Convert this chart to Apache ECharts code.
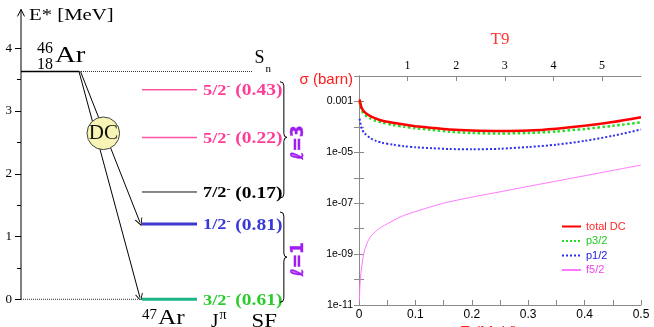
<!DOCTYPE html>
<html><head><meta charset="utf-8">
<script src="https://cdn.jsdelivr.net/npm/echarts@6/dist/echarts.min.js"></script>
<style>html,body{margin:0;padding:0;background:#fff}#c{width:654px;height:327px}</style>
</head><body><div id="c"></div>
<script>
// ---------------- data ----------------
// level scheme of 47Ar
const levelJpi = ['5/2', '5/2', '7/2', '1/2', '3/2'];
const levelParity = ['-', '-', '-', '-', '-'];
const levelSF = ['0.43', '0.22', '0.17', '0.81', '0.61'];
const levelEnergy = [3.34, 2.58, 1.71, 1.20, 0.00];   // MeV
const separationEnergy = 3.63;                         // Sn (MeV)
const dcTargetEnergy = [1.20, 0.00];                   // DC arrows end here
const ellLabels = ['ℓ=3', 'ℓ=1'];
const energyTicks = [0, 1, 2, 3, 4];

// cross sections (barn) vs E (MeV)
const energyE = [0.001, 0.005, 0.01, 0.02, 0.03, 0.04, 0.06, 0.08, 0.1, 0.13, 0.16, 0.2, 0.25, 0.3, 0.35, 0.4, 0.45, 0.5];
const sigmaTotal = [1.20e-3, 5.37e-4, 3.80e-4, 2.63e-4, 2.14e-4, 1.78e-4, 1.45e-4, 1.23e-4, 1.07e-4, 9.1e-5, 7.9e-5, 7.2e-5, 6.9e-5, 7.2e-5, 8.5e-5, 1.10e-4, 1.55e-4, 2.40e-4];
const sigmaP32   = [1.00e-3, 4.37e-4, 3.02e-4, 2.14e-4, 1.74e-4, 1.51e-4, 1.20e-4, 1.02e-4, 8.9e-5, 7.6e-5, 6.5e-5, 5.75e-5, 5.5e-5, 5.75e-5, 6.6e-5, 8.3e-5, 1.10e-4, 1.51e-4];
const sigmaP12   = [2.09e-4, 8.3e-5, 5.6e-5, 3.63e-5, 2.82e-5, 2.40e-5, 2.0e-5, 1.74e-5, 1.58e-5, 1.45e-5, 1.35e-5, 1.32e-5, 1.38e-5, 1.62e-5, 2.0e-5, 2.82e-5, 4.47e-5, 7.9e-5];
const energyF = [0.0005, 0.001, 0.002, 0.004, 0.007, 0.01, 0.015, 0.02, 0.03, 0.04, 0.05, 0.075, 0.1, 0.15, 0.2, 0.25, 0.3, 0.35, 0.4, 0.45, 0.5];
const sigmaF52 = [1.26e-11, 2.5e-11, 7.9e-11, 2.34e-10, 6.8e-10, 1.45e-9, 2.95e-9, 4.7e-9, 7.9e-9, 1.15e-8, 1.55e-8, 3.0e-8, 4.7e-8, 1.0e-7, 1.74e-7, 2.8e-7, 4.6e-7, 7.4e-7, 1.2e-6, 1.95e-6, 3.16e-6];
const seriesNames = ['total DC', 'p3/2', 'p1/2', 'f5/2'];
const kT_MeV_per_T9 = 0.08617;
const T9Ticks = [1, 2, 3, 4, 5];

// ---------------- styles / layout ----------------
const F_SERIF = "'Liberation Serif','DejaVu Serif',serif";
const F_SANS = "'Liberation Sans','DejaVu Sans',sans-serif";
const levelLineColor = ['#ff55a8', '#ff55a8', '#111111', '#3a3ad0', '#1db488'];
const levelTextColor = ['#ff3d99', '#ff3d99', '#000000', '#3838d8', '#2ccc2c'];
const levelLineWidth = [1.5, 1.5, 1, 3, 3];
const seriesColor = ['#ff0000', '#22dd22', '#3030ee', '#ff77ff'];
const legendTextColor = ['#ff2a2a', '#22cc22', '#2020dd', '#ee44ee'];
const LX0 = 121, LX1 = 176, AR_END = 58, SN_END = 232, LABEL_X = 182;

const chart = echarts.init(document.getElementById('c'), null, {renderer: 'canvas'});

const levelSeries = levelEnergy.map((E, i) => ({
  type: 'line', xAxisIndex: 0, yAxisIndex: 0, silent: true, clip: false, animation: false,
  symbol: 'none', data: [[LX0, E], [LX1, E]],
  lineStyle: {color: levelLineColor[i], width: levelLineWidth[i]}
}));
const chevron = 'path://M0,10 L5,0 L10,10 L8.8,10 L5,2.4 L1.2,10 Z';

const sigmaSeries = [sigmaTotal, sigmaP32, sigmaP12, sigmaF52].map((arr, i) => {
  const xs = i === 3 ? energyF : energyE;
  const ls = [
    {width: 2.5, type: 'solid'},
    {width: 2.5, type: 'dotted'},
    {width: 2, type: 'dotted'},
    {width: 1, type: 'solid'}
  ][i];
  return {
    name: seriesNames[i], type: 'line', xAxisIndex: 1, yAxisIndex: 1,
    data: xs.map((e, k) => [e, arr[k]]), symbol: 'none', showSymbol: false, smooth: 0.25,
    animation: false, z: [6, 5, 4, 3][i],
    lineStyle: Object.assign({color: seriesColor[i]}, ls),
    itemStyle: {color: seriesColor[i]}
  };
});

function logLabel(v) {
  const ex = Math.round(Math.log10(v));
  if (ex === -2 || ((-ex) % 2) !== 1) return '';
  if (ex >= -4) return String(Math.pow(10, ex).toFixed(-ex));
  return '1e-' + String(-ex).padStart(2, '0');
}

const option = {
  backgroundColor: '#fff',
  animation: false,
  grid: [
    {left: 21, right: 324, top: 48.3, bottom: 27.7, containLabel: false, outerBoundsMode: 'none'},
    {left: 359, right: 13, top: 76, bottom: 22, containLabel: false, outerBoundsMode: 'none'}
  ],
  xAxis: [
    {gridIndex: 0, type: 'value', min: 0, max: 309, show: false},
    {gridIndex: 1, type: 'value', min: 0, max: 0.5, interval: 0.05, position: 'bottom',
     axisLine: {show: true, lineStyle: {color: '#8a8a8a'}},
     axisTick: {show: true, inside: true, length: 5, lineStyle: {color: '#8a8a8a'}},
     splitLine: {show: false},
     axisLabel: {show: true, margin: 4, color: '#000', fontFamily: F_SANS, fontSize: 12,
       showMinLabel: true, showMaxLabel: true, hideOverlap: false,
       formatter: v => (Math.abs(v * 10 - Math.round(v * 10)) < 1e-6 ? String(Number(v.toFixed(1))) : '')},
     name: 'E (MeV)', nameLocation: 'middle', nameGap: 19,
     nameTextStyle: {color: '#ff2020', fontFamily: F_SANS, fontSize: 16, padding: [0, 22, 0, 0], verticalAlign: 'top'}},
    {gridIndex: 1, type: 'value', min: 0, max: 0.5 / kT_MeV_per_T9, interval: 1, position: 'top',
     axisLine: {show: true, lineStyle: {color: '#8a8a8a'}},
     axisTick: {show: true, inside: true, length: 5, lineStyle: {color: '#8a8a8a'}},
     splitLine: {show: false},
     axisLabel: {show: true, margin: 4, color: '#000', fontFamily: F_SERIF, fontSize: 12,
       showMinLabel: true, showMaxLabel: false, hideOverlap: false,
       formatter: v => (T9Ticks.indexOf(Math.round(v)) >= 0 && Math.abs(v - Math.round(v)) < 1e-6 ? String(Math.round(v)) : '')},
     name: 'T9', nameLocation: 'middle', nameGap: 28,
     nameTextStyle: {color: '#ff3333', fontFamily: F_SERIF, fontSize: 17}}
  ],
  yAxis: [
    {gridIndex: 0, type: 'value', min: 0, max: 4, interval: 1,
     axisLine: {show: false},
     axisTick: {show: true, inside: false, length: 6, lineStyle: {color: '#000'}},
     minorTick: {show: true, splitNumber: 2, length: 4, lineStyle: {color: '#000'}},
     splitLine: {show: false},
     axisLabel: {margin: 9, color: '#000', fontFamily: F_SERIF, fontSize: 13,
       formatter: v => (energyTicks.indexOf(v) >= 0 ? String(v) : '')}},
    {gridIndex: 1, type: 'log', logBase: 10, min: 1e-11, max: 1e-2, position: 'left',
     axisLine: {show: true, lineStyle: {color: '#8a8a8a'}},
     axisTick: {show: true, inside: true, length: 5, lineStyle: {color: '#8a8a8a'}},
     splitLine: {show: false},
     axisLabel: {margin: 6, color: '#000', fontFamily: F_SANS, fontSize: 10.5,
       showMinLabel: true, showMaxLabel: true, hideOverlap: false, formatter: logLabel},
     name: 'σ (barn)', nameLocation: 'end', nameGap: -4,
     nameTextStyle: {color: '#ff1a1a', fontFamily: F_SANS, fontSize: 15, align: 'right',
       verticalAlign: 'middle', padding: [0, 6, 0, 0]}},
    {gridIndex: 1, type: 'log', logBase: 10, min: 1e-11, max: 1e-2, position: 'right',
     axisLine: {show: true, lineStyle: {color: '#8a8a8a'}},
     axisTick: {show: true, inside: true, length: 5, lineStyle: {color: '#8a8a8a'}},
     splitLine: {show: false}, axisLabel: {show: false}}
  ],
  legend: {
    data: seriesNames.map((n, i) => ({name: n, textStyle: {color: legendTextColor[i]}})),
    orient: 'vertical', left: 561, top: 221, itemWidth: 19, itemHeight: 11, itemGap: 3.5,
    selectedMode: false, padding: 0,
    itemStyle: {opacity: 0},
    textStyle: {fontFamily: F_SANS, fontSize: 11}
  },
  series: [
    ...levelSeries,
    {type: 'line', xAxisIndex: 0, yAxisIndex: 0, silent: true, clip: false, symbol: 'none',
     data: [[0, separationEnergy], [AR_END, separationEnergy]], lineStyle: {color: '#000', width: 1.3}},
    {type: 'line', xAxisIndex: 0, yAxisIndex: 0, silent: true, clip: false, symbol: 'none',
     data: [[AR_END, separationEnergy], [SN_END, separationEnergy]], lineStyle: {color: '#333', width: 1, type: [1, 1]}},
    {type: 'line', xAxisIndex: 0, yAxisIndex: 0, silent: true, clip: false, symbol: 'none',
     data: [[0, 0], [LX0, 0]], lineStyle: {color: '#333', width: 1, type: [1, 1]}},
    {type: 'lines', coordinateSystem: 'cartesian2d', xAxisIndex: 0, yAxisIndex: 0, silent: true,
     symbol: ['none', chevron], symbolSize: 8, z: 3,
     lineStyle: {color: '#000', width: 1, opacity: 1},
     data: dcTargetEnergy.map(E => ({coords: [[AR_END + (E > 0.5 ? 1.5 : 0), separationEnergy], [LX0 - 2, E + 0.025]]}))},
    ...sigmaSeries
  ]
};
chart.setOption(option);

// ---------------- annotations (positions from the energy axis) ----------------
const P = (x, E) => chart.convertToPixel({xAxisIndex: 0, yAxisIndex: 0}, [x, E]);
const g = [];
function text(t, x, y, font, fill, opts) {
  opts = opts || {};
  g.push(Object.assign({
    type: 'text', x: x, y: y, z: 100,
    style: Object.assign({text: t, font: font, fill: fill || '#000',
      align: opts.align || 'left', verticalAlign: opts.va || 'middle'}, opts.style || {})
  }, opts.el || {}));
}
const axX = P(0, 0)[0];
const y0 = P(0, 0)[1];
const yTop = P(0, 4.62)[1];
g.push({type: 'line', z: 100, shape: {x1: axX, y1: y0, x2: axX, y2: yTop}, style: {stroke: '#000', lineWidth: 1}});
g.push({type: 'polyline', z: 100, shape: {points: [[axX - 3.5, yTop + 7], [axX, yTop], [axX + 3.5, yTop + 7]]},
        style: {stroke: '#000', fill: null, lineWidth: 1}});
text('E* [MeV]', 29, 15.5, '17px ' + F_SERIF, '#000', {el: {scaleX: 1.22}});

const ySn = P(0, separationEnergy)[1];
text('46', 53, ySn - 23, '16px ' + F_SERIF, '#000', {align: 'right'});
text('18', 53, ySn - 7, '16px ' + F_SERIF, '#000', {align: 'right'});
text('Ar', 55, ySn - 16, '23px ' + F_SERIF, '#000', {el: {scaleX: 1.25}});
text('S', 254.5, ySn - 13, '18px ' + F_SERIF);
text('n', 265.5, ySn - 2.5, '11px ' + F_SERIF);

// DC circle
g.push({type: 'circle', z: 100, shape: {cx: 103.3, cy: 133.3, r: 16.3}, style: {fill: '#f8f4b6', stroke: '#444', lineWidth: 1}});
text('DC', 103.3, 133.8, '21px ' + F_SERIF, '#111', {align: 'center'});

// level labels
levelEnergy.forEach((E, i) => {
  const p = P(LABEL_X, E);
  const c = levelTextColor[i];
  g.push({
    type: 'text', x: p[0], y: p[1] + 1.5, z: 100, scaleX: 1.22,
    style: {
      text: '{j|' + levelJpi[i] + '}{p|' + levelParity[i] + '} {v|(' + levelSF[i] + ')}',
      align: 'left', verticalAlign: 'middle', font: 'bold 16px ' + F_SERIF, fill: c,
      rich: {
        j: {font: 'bold 15px ' + F_SERIF, fill: c},
        p: {font: 'bold 10px ' + F_SERIF, fill: c, padding: [0, 0, 9, 0]},
        v: {font: 'bold 16px ' + F_SERIF, fill: c}
      }
    }
  });
});

// braces + l labels
function brace(x, yT, yTip, yB, w) {
  const m = x + w * 0.55, tip = x + w;
  const st = {stroke: '#000', fill: null, lineWidth: 1};
  const segs = [
    {type: 'bezierCurve', shape: {x1: x, y1: yT, cpx1: m, cpy1: yT, x2: m, y2: yT + 4}},
    {type: 'line', shape: {x1: m, y1: yT + 4, x2: m, y2: yTip - 4}},
    {type: 'bezierCurve', shape: {x1: m, y1: yTip - 4, cpx1: m, cpy1: yTip, x2: tip, y2: yTip}},
    {type: 'bezierCurve', shape: {x1: tip, y1: yTip, cpx1: m, cpy1: yTip, x2: m, y2: yTip + 4}},
    {type: 'line', shape: {x1: m, y1: yTip + 4, x2: m, y2: yB - 4}},
    {type: 'bezierCurve', shape: {x1: m, y1: yB - 4, cpx1: m, cpy1: yB, x2: x, y2: yB}}
  ];
  segs.forEach(s => { s.z = 100; s.style = st; g.push(s); });
}
const b1T = P(0, levelEnergy[0])[1] - 8, b1Tip = P(0, levelEnergy[1])[1], b1B = P(0, levelEnergy[2])[1] + 6;
const b2T = P(0, levelEnergy[3])[1] - 12, b2B = P(0, levelEnergy[4])[1] + 3, b2Tip = (b2T + b2B) / 2;
brace(280, b1T, b1Tip, b1B, 7);
brace(280, b2T, b2Tip, b2B, 7);
[b1Tip + 5, b2Tip + 2].forEach((yy, i) => {
  g.push({type: 'text', x: 298.5, y: yy, z: 100, rotation: Math.PI / 2,
          style: {text: ellLabels[i], font: "bold 17px 'DejaVu Sans',sans-serif", fill: '#a01ef2',
                  align: 'center', verticalAlign: 'middle', stroke: '#a01ef2', lineWidth: 0.4}});
});

// bottom labels
text('47', 157, y0 + 15.5, '15px ' + F_SERIF, '#000', {align: 'right'});
text('Ar', 158, y0 + 8, '22px ' + F_SERIF, '#000', {va: 'top', el: {scaleX: 1.15}});
text('J', 211, y0 + 13, '19px ' + F_SERIF, '#000', {va: 'top'});
text('π', 219.5, y0 + 16, '14px ' + F_SERIF, '#000');
text('SF', 251.5, y0 + 13, '19px ' + F_SERIF, '#000', {va: 'top', el: {scaleX: 1.2}});

chart.setOption({graphic: {elements: g}});
</script></body></html>
